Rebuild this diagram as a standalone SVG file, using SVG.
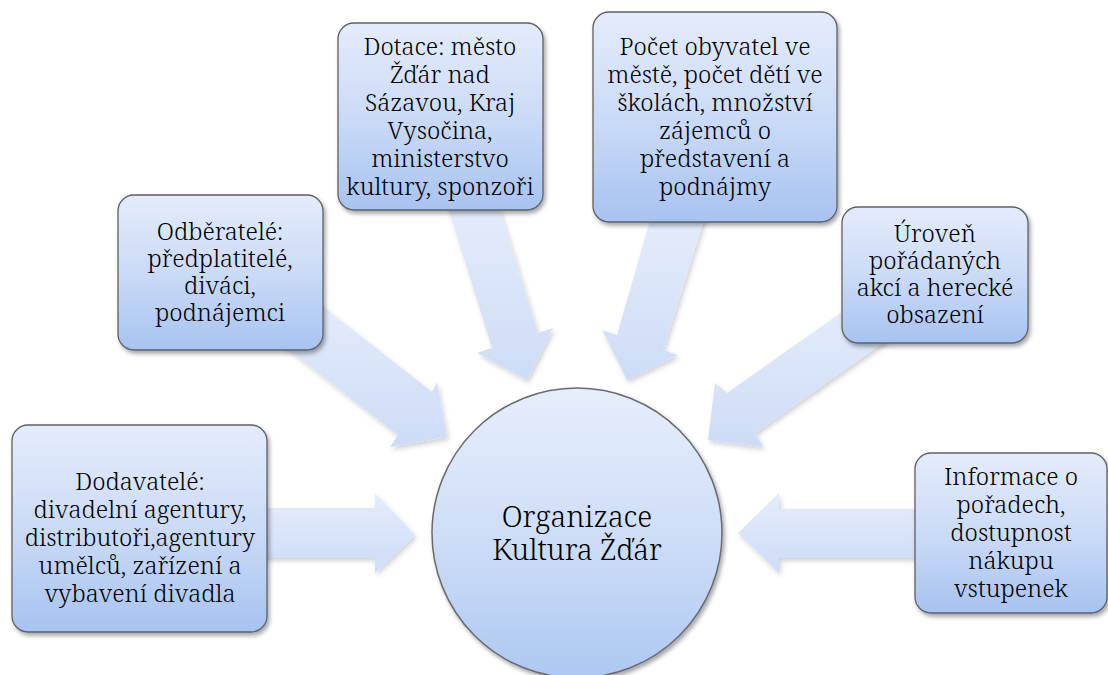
<svg xmlns="http://www.w3.org/2000/svg" width="1108" height="675" viewBox="0 0 1108 675">
<defs>
<linearGradient id="gBox" x1="0" y1="0" x2="0" y2="1">
<stop offset="0" stop-color="#e4ecfb"/>
<stop offset="0.5" stop-color="#cbdbf6"/>
<stop offset="1" stop-color="#a7c3f0"/>
</linearGradient>
<linearGradient id="gCircle" x1="0" y1="0" x2="0" y2="1">
<stop offset="0" stop-color="#e6eefb"/>
<stop offset="0.5" stop-color="#cfdef7"/>
<stop offset="1" stop-color="#adc8f2"/>
</linearGradient>
<linearGradient id="gArrow" x1="0" y1="0" x2="0" y2="1">
<stop offset="0" stop-color="#e5edfb"/>
<stop offset="1" stop-color="#cddcf6"/>
</linearGradient>
<filter id="shadow" x="-10%" y="-10%" width="125%" height="125%">
<feDropShadow dx="2" dy="3" stdDeviation="2" flood-color="#000" flood-opacity="0.35"/>
</filter>
<filter id="ashadow" x="-10%" y="-10%" width="125%" height="125%">
<feDropShadow dx="2" dy="3" stdDeviation="2.5" flood-color="#000" flood-opacity="0.18"/>
</filter>
</defs>
<style>
.box{fill:url(#gBox);stroke:#5f6064;stroke-width:1.3;filter:url(#shadow)}
.arrow{fill:url(#gArrow);stroke:none;filter:url(#ashadow)}
text{font-family:'Noto Serif','DejaVu Serif',serif;font-weight:350;fill:#000;text-anchor:middle}
.t{font-size:24px}
.tc{font-size:29px}
</style>
<rect width="1108" height="675" fill="#fff"/>
<g id="connectors">
<polygon class="arrow" points="250,508 375,508 375,493 415,535 375,573 375,558 250,558"/>
<polygon class="arrow" points="930,509 779,509 779,493 738,533 779,573 779,558 930,558"/>
<polygon class="arrow" points="302,290 432,392 437,382 447,437 390,447 398,435 268,333"/>
<polygon class="arrow" points="444,195 495,195 538,333 553,328 527,380 477,353 492,348"/>
<polygon class="arrow" points="653,210 707,210 663,350 678,355 627,380 602,330 617,335"/>
<polygon class="arrow" points="869,293 897,333 755,433 763,447 708,440 715,383 727,393"/>
</g>
<g id="center">
<circle cx="577" cy="533" r="145" fill="url(#gCircle)" stroke="#6a6b6e" stroke-width="1.5" filter="url(#shadow)"/>
<text class="tc" x="577" y="527">Organizace</text>
<text class="tc" x="577" y="560">Kultura Žďár</text>
</g>
<g id="dodavatele">
<rect class="box" x="12" y="425" width="255" height="207" rx="16"/>
<text class="t" x="140" y="490">Dodavatelé:</text>
<text class="t" x="140" y="518">divadelní agentury,</text>
<text class="t" x="140" y="546">distributoři,agentury</text>
<text class="t" x="140" y="574">umělců, zařízení a</text>
<text class="t" x="140" y="602">vybavení divadla</text>
</g>
<g id="odberatele">
<rect class="box" x="118" y="195" width="205" height="155" rx="16"/>
<text class="t" x="220" y="240">Odběratelé:</text>
<text class="t" x="220" y="267">předplatitelé,</text>
<text class="t" x="220" y="294">diváci,</text>
<text class="t" x="220" y="321">podnájemci</text>
</g>
<g id="dotace">
<rect class="box" x="338" y="23" width="205" height="187" rx="16"/>
<text class="t" x="440" y="55">Dotace: město</text>
<text class="t" x="440" y="83">Žďár nad</text>
<text class="t" x="440" y="111">Sázavou, Kraj</text>
<text class="t" x="440" y="139">Vysočina,</text>
<text class="t" x="440" y="167">ministerstvo</text>
<text class="t" x="440" y="195">kultury, sponzoři</text>
</g>
<g id="pocet">
<rect class="box" x="593" y="12" width="244" height="210" rx="16"/>
<text class="t" x="715" y="55">Počet obyvatel ve</text>
<text class="t" x="715" y="83">městě, počet dětí ve</text>
<text class="t" x="715" y="111">školách, množství</text>
<text class="t" x="715" y="139">zájemců o</text>
<text class="t" x="715" y="167">představení a</text>
<text class="t" x="715" y="195">podnájmy</text>
</g>
<g id="uroven">
<rect class="box" x="842" y="207" width="186" height="136" rx="16"/>
<text class="t" x="935" y="242">Úroveň</text>
<text class="t" x="935" y="269">pořádaných</text>
<text class="t" x="935" y="296">akcí a herecké</text>
<text class="t" x="935" y="323">obsazení</text>
</g>
<g id="informace">
<rect class="box" x="915" y="453" width="192" height="160" rx="16"/>
<text class="t" x="1011" y="485">Informace o</text>
<text class="t" x="1011" y="513">pořadech,</text>
<text class="t" x="1011" y="541">dostupnost</text>
<text class="t" x="1011" y="569">nákupu</text>
<text class="t" x="1011" y="597">vstupenek</text>
</g>
</svg>
